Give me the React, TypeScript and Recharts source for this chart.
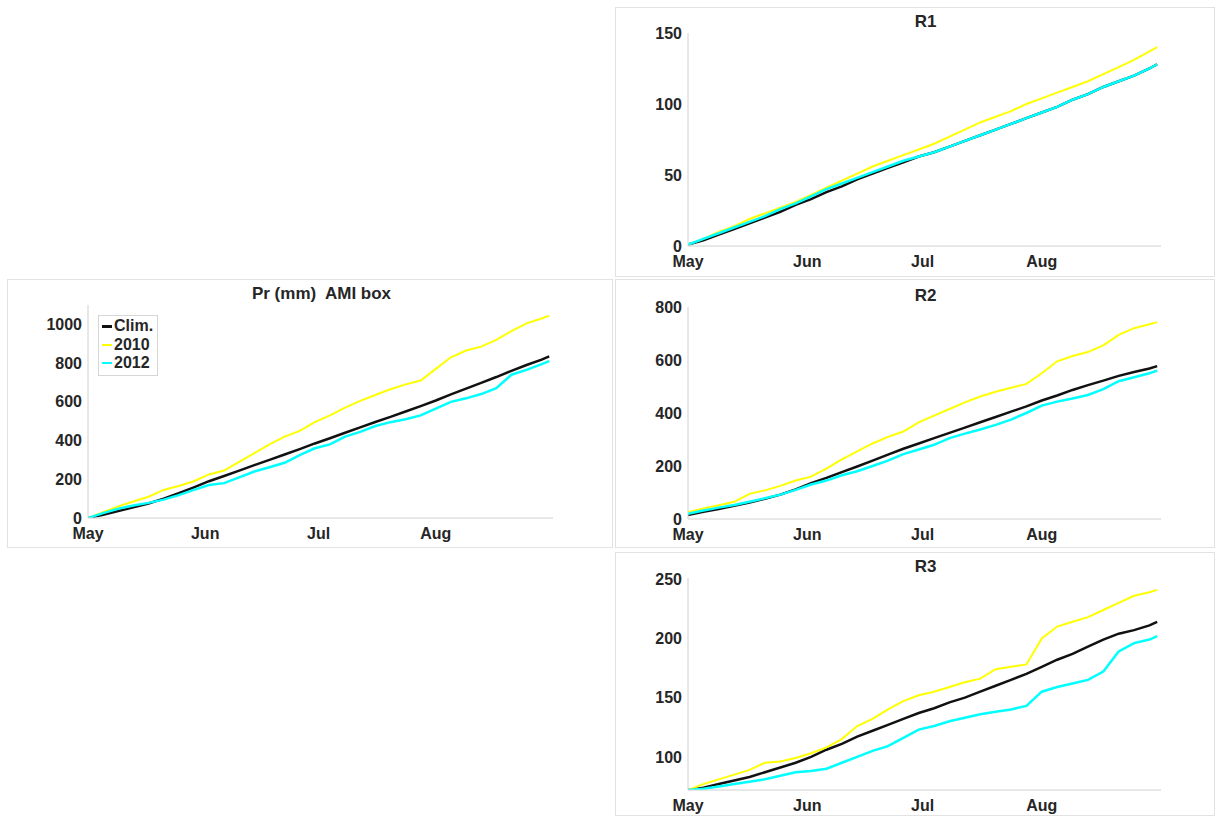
import React from "react";
import { LineChart, Line, XAxis, YAxis } from "recharts";

// ---- data ----
const days = [0, 4, 8, 12, 16, 20, 24, 28, 32, 36, 40, 44, 48, 52, 56, 60, 64, 68, 72, 76, 80, 84, 88, 92, 96, 100, 104, 108, 112, 116, 120, 122];
const monthTicks = [0, 31, 61, 92];
const monthLabels = ["May", "Jun", "Jul", "Aug"];

const seriesNames = ["Clim.", "2010", "2012"];

// AMI box
const amiClim = [0, 17, 36, 55, 75, 100, 128, 158, 190, 217, 245, 273, 300, 328, 356, 385, 412, 440, 468, 496, 522, 550, 578, 607, 638, 668, 698, 728, 760, 790, 818, 835];
const ami2010 = [0, 30, 60, 85, 110, 145, 165, 190, 225, 245, 290, 335, 380, 420, 450, 495, 530, 570, 605, 635, 665, 690, 710, 770, 830, 865, 885, 920, 965, 1005, 1030, 1045];
const ami2012 = [0, 25, 48, 65, 78, 95, 118, 145, 170, 180, 210, 240, 262, 285, 325, 360, 380, 420, 445, 475, 495, 510, 530, 565, 600, 618, 640, 670, 740, 765, 795, 810];

// R1
const r1Clim = [1, 4, 8, 12, 16, 20, 24, 29, 33, 38, 42, 47, 51, 55, 59, 63, 66, 70, 74, 78, 82, 86, 90, 94, 98, 103, 107, 112, 116, 120, 125, 128];
const r12010 = [1, 5, 10, 14, 19, 23, 27, 31, 36, 41, 46, 51, 56, 60, 64, 68, 72, 77, 82, 87, 91, 95, 100, 104, 108, 112, 116, 121, 126, 131, 137, 140];
const r12012 = [1, 5, 9, 13, 17, 21, 26, 30, 35, 40, 44, 48, 52, 56, 60, 63, 66, 70, 74, 78, 82, 86, 90, 94, 98, 103, 107, 112, 116, 120, 125, 128];

// R2
const r2Clim = [15, 27, 38, 50, 62, 76, 92, 112, 135, 155, 177, 198, 220, 243, 265, 285, 305, 325, 345, 365, 385, 405, 425, 447, 466, 487, 505, 522, 540, 555, 568, 577];
const r22010 = [25, 40, 52, 65, 95, 108, 125, 145, 160, 190, 225, 255, 285, 310, 330, 365, 390, 415, 440, 462, 480, 495, 510, 550, 595, 615, 630, 655, 695, 720, 735, 743];
const r22012 = [20, 32, 43, 53, 65, 78, 92, 110, 130, 145, 165, 180, 200, 220, 245, 262, 280, 305, 322, 338, 355, 375, 400, 428, 443, 455, 468, 490, 520, 535, 550, 560];

// R3
const r3Clim = [72, 74, 77, 80, 83, 87, 91, 95, 100, 106, 111, 117, 122, 127, 132, 137, 141, 146, 150, 155, 160, 165, 170, 176, 182, 187, 193, 199, 204, 207, 211, 214];
const r32010 = [72, 77, 81, 85, 89, 95, 96, 99, 103, 108, 115, 126, 132, 140, 147, 152, 155, 159, 163, 166, 174, 176, 178, 200, 210, 214, 218, 224, 230, 236, 239, 241];
const r32012 = [72, 73, 75, 77, 79, 81, 84, 87, 88, 90, 95, 100, 105, 109, 116, 123, 126, 130, 133, 136, 138, 140, 143, 155, 159, 162, 165, 172, 189, 196, 199, 202];

const amiTicks = [0, 200, 400, 600, 800, 1000];
const r1Ticks = [0, 50, 100, 150];
const r2Ticks = [0, 200, 400, 600, 800];
const r3Ticks = [100, 150, 200, 250];

// ---- styles ----
const FONT = "'Liberation Sans', Arial, sans-serif";
const TEXT = "#262626";
const AXIS = "#d0d0d0";
const COLORS = ["#111111", "#ffff00", "#00ffff"];
const WIDTHS = [2.5, 2, 2.5];
const KEYS = ["clim", "y2010", "y2012"];

const tickStyle = { fontFamily: FONT, fontWeight: 700, fontSize: 16, fill: TEXT };

function build(a: number[], b: number[], c: number[]) {
  return days.map((d, i) => ({ day: d, clim: a[i], y2010: b[i], y2012: c[i] }));
}

type PanelProps = {
  title: string;
  data: any[];
  yDomain: [number, number];
  yTicks: number[];
  left: number;
  top: number;
  width: number;
  height: number;
  yAxisWidth: number;
  marginTop: number;
  marginRight: number;
  xAxisHeight: number;
  legend?: boolean;
};

function Panel(p: PanelProps) {
  const plotLeft = p.yAxisWidth;
  const plotRight = p.width - p.marginRight;
  const cx = (plotLeft + plotRight) / 2;
  return (
    <div
      style={{
        position: "absolute",
        left: p.left,
        top: p.top,
        width: p.width,
        height: p.height,
        boxSizing: "border-box",
        border: "1px solid #e2e2e2",
        background: "#fff",
      }}
    >
      <div
        style={{
          position: "absolute",
          left: cx - 150,
          width: 300,
          top: p.marginTop - 22,
          lineHeight: "20px",
          textAlign: "center",
          fontFamily: FONT,
          fontWeight: 700,
          fontSize: 17,
          color: TEXT,
          whiteSpace: "pre",
        }}
      >
        {p.title}
      </div>
      <div style={{ position: "absolute", left: -1, top: -1 }}>
        <LineChart
          width={p.width}
          height={p.height}
          data={p.data}
          margin={{ top: p.marginTop, right: p.marginRight, bottom: 0, left: 0 }}
        >
          <XAxis
            dataKey="day"
            type="number"
            domain={[0, 123]}
            ticks={monthTicks}
            tickFormatter={(v: number) => monthLabels[monthTicks.indexOf(v)] ?? ""}
            height={p.xAxisHeight}
            tick={tickStyle}
            tickLine={false}
            tickMargin={4}
            axisLine={{ stroke: AXIS }}
            allowDataOverflow
          />
          <XAxis
            xAxisId="top"
            orientation="top"
            dataKey="day"
            type="number"
            domain={[0, 123]}
            height={0}
            tick={false}
            tickLine={false}
            axisLine={{ stroke: AXIS }}
          />
          <YAxis
            type="number"
            domain={p.yDomain}
            ticks={p.yTicks}
            width={p.yAxisWidth}
            tick={tickStyle}
            tickLine={false}
            tickMargin={0}
            axisLine={{ stroke: AXIS }}
            allowDataOverflow
          />
          <YAxis
            yAxisId="right"
            orientation="right"
            type="number"
            domain={p.yDomain}
            width={0}
            tick={false}
            tickLine={false}
            axisLine={{ stroke: AXIS }}
          />
          {KEYS.map((k, i) => (
            <Line
              key={k}
              dataKey={k}
              name={seriesNames[i]}
              stroke={COLORS[i]}
              strokeWidth={WIDTHS[i]}
              dot={false}
              type="linear"
              isAnimationActive={false}
            />
          ))}
        </LineChart>
      </div>
      {p.legend && (
        <div
          style={{
            position: "absolute",
            left: 90,
            top: 35,
            width: 58,
            padding: "1px 0 2px 0",
            border: "1px solid #d6d6d6",
            background: "#fff",
            fontFamily: FONT,
            fontWeight: 700,
            fontSize: 16,
            color: TEXT,
          }}
        >
          {seriesNames.map((n, i) => (
            <div key={n} style={{ display: "flex", alignItems: "center", height: 18.5 }}>
              <div
                style={{
                  width: 10,
                  height: i === 0 ? 2.5 : 2,
                  background: COLORS[i],
                  marginLeft: 3,
                  marginRight: 2,
                }}
              />
              <span>{n}</span>
            </div>
          ))}
        </div>
      )}
    </div>
  );
}

export default function App() {
  return (
    <div style={{ position: "absolute", left: 0, top: 0, width: 1215, height: 816, background: "#fff" }}>
      <Panel
        title="R1"
        data={build(r1Clim, r12010, r12012)}
        yDomain={[0, 150]}
        yTicks={r1Ticks}
        left={615}
        top={7}
        width={600}
        height={270}
        yAxisWidth={73}
        marginTop={26}
        marginRight={54}
        xAxisHeight={31}
      />
      <Panel
        title={"Pr (mm)  AMI box"}
        data={build(amiClim, ami2010, ami2012)}
        yDomain={[0, 1100]}
        yTicks={amiTicks}
        left={7}
        top={279}
        width={606}
        height={269}
        yAxisWidth={81}
        marginTop={26}
        marginRight={60}
        xAxisHeight={30}
        legend
      />
      <Panel
        title="R2"
        data={build(r2Clim, r22010, r22012)}
        yDomain={[0, 800]}
        yTicks={r2Ticks}
        left={615}
        top={279}
        width={600}
        height={269}
        yAxisWidth={73}
        marginTop={28}
        marginRight={54}
        xAxisHeight={29}
      />
      <Panel
        title="R3"
        data={build(r3Clim, r32010, r32012)}
        yDomain={[72, 251]}
        yTicks={r3Ticks}
        left={615}
        top={552}
        width={600}
        height={264}
        yAxisWidth={73}
        marginTop={26}
        marginRight={54}
        xAxisHeight={26}
      />
    </div>
  );
}
